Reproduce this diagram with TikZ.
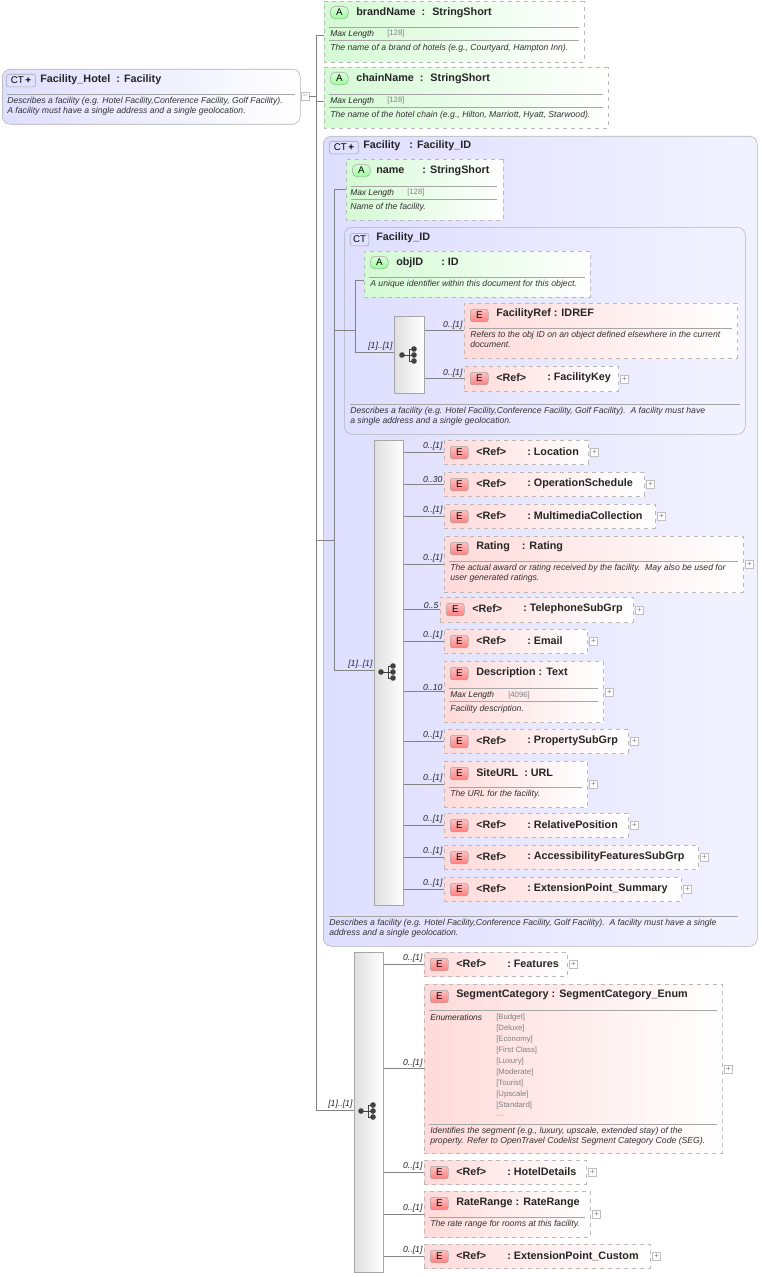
\documentclass[tikz,border=0pt]{standalone}
\usepackage{fontspec}
\setmainfont{Liberation Sans}
\usetikzlibrary{shapes.misc}
\definecolor{elL}{RGB}{255,218,218}
\definecolor{atL}{RGB}{212,250,212}
\definecolor{grL}{RGB}{222,222,255}
\definecolor{grR}{RGB}{242,242,255}
\definecolor{ln}{RGB}{130,130,130}
\newcounter{nn}
\tikzset{x=0.75pt,y=-0.75pt,
 elem/.style={draw=gray!55,dashed,left color=elL,right color=white,rectangle,inner sep=0,anchor=north west},
 attr/.style={draw=gray!55,dashed,left color=atL,right color=white,chamfered rectangle,chamfered rectangle corners={north west,south west},chamfered rectangle sep=4pt,inner sep=0,anchor=north west},
 grp/.style={draw=gray!60,rounded corners=6pt,left color=grL,right color=grR,inner sep=0,anchor=north west},
 root/.style={draw=gray!60,rounded corners=6pt,left color=grL,right color=white,inner sep=0,anchor=north west},
 seqb/.style={draw=gray!70,left color=gray!25,right color=white,inner sep=0,anchor=north west},
 conn/.style={draw=ln,line width=0.5pt},
 sep/.style={draw=gray!70,line width=0.4pt},
 ttl/.style={font=\fontsize{8.1}{9}\selectfont\bfseries,anchor=west,inner sep=0,text=black!85},
 dsc/.style={font=\fontsize{6.5}{7.7}\selectfont\itshape,anchor=north west,inner sep=0,align=left,text=black!80},
 ml/.style={font=\fontsize{6.3}{7}\selectfont\itshape,anchor=west,inner sep=0,text=black!85},
 mv/.style={font=\fontsize{5.8}{7}\selectfont,anchor=west,inner sep=0,text=gray},
 card/.style={font=\fontsize{6.5}{7}\selectfont\itshape,anchor=south east,inner sep=1pt,text=black!85},
 badge/.style={draw=gray!70,rounded corners=2pt,inner sep=0,anchor=north west,minimum width=13.5pt,minimum height=9.5pt,font=\fontsize{7.3}{8}\selectfont},
 plusb/.style={draw=gray!50,fill=white,minimum size=6pt,inner sep=0,font=\fontsize{6}{6}\selectfont,text=gray},
}
\newcommand\bx[6]{\node[#6,minimum width={(#4-#2)*0.75pt},minimum height={(#5-#3)*0.75pt}] (#1) at (#2,#3) {};}
\newcommand\tx[4]{\stepcounter{nn}\node[#3] (t\arabic{nn}) at (#1,#2) {#4};}
\newcommand\Eb[2]{\stepcounter{nn}\node[badge,top color=red!25,bottom color=red!50] (b\arabic{nn}) at (#1+6,#2+6) {E};}
\newcommand\Ab[2]{\stepcounter{nn}\node[badge,top color=green!15,bottom color=green!40,rounded corners=4pt] (b\arabic{nn}) at (#1+6,#2+5) {A};}
\newcommand\CTb[4]{\stepcounter{nn}\node[badge,fill=blue!12,minimum width=#3] (b\arabic{nn}) at (#1,#2) {CT#4};}
\newcommand\pl[1]{\stepcounter{nn}\node[plusb] (p\arabic{nn}) at ([xshift=4.5pt]#1.east) {+};}
\newcommand\cn[3]{\draw[conn] (#1.east |- #2.west) -- (#2.west); \stepcounter{nn}\node[card] (c\arabic{nn}) at (#2.west) {#3};}
\newcommand\refel[8]{\bx{#1}{#2}{#3}{#4}{#5}{elem}\Eb{#2}{#3}\tx{#2+32}{#3+12}{ttl}{<Ref>}\tx{#2+83}{#3+12}{ttl}{:\ #6}\pl{#1}\cn{#8}{#1}{#7}}
\newcommand\seqicon[2]{\fill[black!75] (#1-8,#2) circle (2.1pt) (#1+4,#2-6) circle (2.1pt) (#1+4,#2) circle (2.1pt) (#1+4,#2+6) circle (2.1pt);
 \draw[black!75,line width=0.7pt] (#1-8,#2)--(#1-1,#2) (#1-1,#2-6)--(#1-1,#2+6) (#1-1,#2-6)--(#1+4,#2-6) (#1-1,#2+6)--(#1+4,#2+6) (#1-1,#2)--(#1+4,#2);}
\begin{document}
\begin{tikzpicture}
\useasboundingbox (0,0) rectangle (761,1277);
% root
\bx{root}{2}{69}{300}{124}{root}
\CTb{6}{74}{22pt}{\,\textbf{+}}\tx{40}{80}{ttl}{Facility\_Hotel\ \ : Facility}
\draw[sep] (7,94)--(295,94);
\tx{7}{97}{dsc}{Describes a facility (e.g. Hotel Facility,Conference Facility, Golf Facility).\\A facility must have a single address and a single geolocation.}
\node[plusb] (rm) at (305,96) {--};
\coordinate (trT) at (316,35); \coordinate (trB) at (316,1110);
\draw[conn] (rm.east) -- (rm.east -| trT);
\draw[conn] (trT) -- (trB);
% brandName
\bx{brand}{324}{1}{584}{62}{attr}\Ab{324}{1}\tx{356}{13}{ttl}{brandName\ \ : \ StringShort}
\draw[sep] (329,27)--(579,27) (329,40)--(579,40);
\tx{330}{34}{ml}{Max Length}\tx{387}{34}{mv}{[128]}
\tx{330}{44}{dsc}{The name of a brand of hotels (e.g., Courtyard, Hampton Inn).}
\draw[conn] (trT) -- (brand.west |- trT);
% chainName
\bx{chain}{324}{67}{608}{128}{attr}\Ab{324}{67}\tx{356}{79}{ttl}{chainName\ \ : \ StringShort}
\draw[sep] (329,94)--(603,94) (329,107)--(603,107);
\tx{330}{101}{ml}{Max Length}\tx{387}{101}{mv}{[128]}
\tx{330}{111}{dsc}{The name of the hotel chain (e.g., Hilton, Marriott, Hyatt, Starwood).}
\coordinate (chc) at (316,101); \draw[conn] (chc) -- (chain.west |- chc);
% Facility group
\bx{fac}{323}{136}{757}{946}{grp}
\CTb{329}{141}{22pt}{\,\textbf{+}}\tx{363}{146}{ttl}{Facility\ \ \ : Facility\_ID}
\coordinate (fj) at (316,540); \coordinate (fv1) at (334,189); \coordinate (fv2) at (334,670);
\draw[conn] (fj) -- (fj -| fv1); \draw[conn] (fv1) -- (fv2);
\bx{nm}{346}{159}{503}{220}{attr}\Ab{346}{159}\tx{376}{171}{ttl}{name\ \ \ \ \ \ : StringShort}
\draw[sep] (351,186)--(497,186) (351,199)--(497,199);
\tx{350}{193}{ml}{Max Length}\tx{407}{193}{mv}{[128]}
\tx{350}{203}{dsc}{Name of the facility.}
\draw[conn] (fv1) -- (nm.west |- fv1);
% Facility_ID
\bx{fid}{344}{227}{745}{434}{grp}
\CTb{350}{233}{14pt}{}\tx{376}{238}{ttl}{Facility\_ID}
\coordinate (iv1) at (355,280); \coordinate (iv2) at (355,352); \coordinate (ij) at (334,330);
\draw[conn] (ij) -- (ij -| iv1); \draw[conn] (iv1) -- (iv2);
\bx{obj}{364}{251}{590}{297}{attr}\Ab{364}{251}\tx{396}{263}{ttl}{objID\ \ \ \ \ \ : ID}
\draw[sep] (369,277)--(585,277);
\tx{370}{280}{dsc}{A unique identifier within this document for this object.}
\draw[conn] (iv1) -- (obj.west |- iv1);
\bx{s1}{394}{316}{424}{393}{seqb}\seqicon{410}{355}
\draw[conn] (iv2) -- (s1.west |- iv2); \node[card] (c1a) at (s1.west |- iv2) {[1]..[1]};
\bx{fref}{464}{303}{737}{358}{elem}\Eb{464}{303}\tx{496}{314}{ttl}{FacilityRef\ : IDREF}
\draw[sep] (469,328)--(732,328);
\tx{470}{331}{dsc}{Refers to the obj ID on an object defined elsewhere in the current\\document.}
\cn{s1}{fref}{0..[1]}
\refel{fkey}{464}{366}{618}{391}{FacilityKey}{0..[1]}{s1}
\draw[sep] (350,404)--(740,404);
\tx{350}{407}{dsc}{Describes a facility (e.g. Hotel Facility,Conference Facility, Golf Facility).\ \ A facility must have\\a single address and a single geolocation.}
% big sequence
\bx{s2}{374}{440}{403}{905}{seqb}\seqicon{389}{672}
\draw[conn] (fv2) -- (s2.west |- fv2); \node[card] (c2a) at (s2.west |- fv2) {[1]..[1]};
\refel{loc}{444}{440}{588}{464}{Location}{0..[1]}{s2}
\refel{ops}{444}{472}{644}{496}{OperationSchedule}{0..30}{s2}
\refel{mmc}{444}{504}{655}{528}{MultimediaCollection}{0..[1]}{s2}
\bx{rat}{444}{536}{743}{592}{elem}\Eb{444}{536}\tx{476}{547}{ttl}{Rating\ \ \ \ : Rating}
\draw[sep] (449,561)--(738,561);
\tx{450}{564}{dsc}{The actual award or rating received by the facility.\ \ May also be used for\\user generated ratings.}
\pl{rat}\cn{s2}{rat}{0..[1]}
\bx{tel}{440}{597}{633}{622}{elem}\Eb{440}{597}\tx{472}{609}{ttl}{<Ref>}\tx{523}{609}{ttl}{:\ TelephoneSubGrp}\pl{tel}\cn{s2}{tel}{0..5}
\refel{eml}{444}{629}{587}{653}{Email}{0..[1]}{s2}
\bx{des}{444}{661}{603}{722}{elem}\Eb{444}{661}\tx{476}{673}{ttl}{Description\ : Text}
\draw[sep] (449,688)--(598,688) (449,701)--(598,701);
\tx{450}{695}{ml}{Max Length}\tx{508}{695}{mv}{[4096]}
\tx{450}{705}{dsc}{Facility description.}
\pl{des}\cn{s2}{des}{0..10}
\refel{pro}{444}{729}{628}{753}{PropertySubGrp}{0..[1]}{s2}
\bx{url}{444}{761}{587}{807}{elem}\Eb{444}{761}\tx{476}{773}{ttl}{SiteURL\ \ : URL}
\draw[sep] (449,787)--(582,787);
\tx{450}{790}{dsc}{The URL for the facility.}
\pl{url}\cn{s2}{url}{0..[1]}
\refel{rel}{444}{813}{628}{837}{RelativePosition}{0..[1]}{s2}
\refel{acc}{444}{845}{698}{869}{AccessibilityFeaturesSubGrp}{0..[1]}{s2}
\refel{eps}{444}{877}{681}{901}{ExtensionPoint\_Summary}{0..[1]}{s2}
\draw[sep] (329,916)--(738,916);
\tx{329}{919}{dsc}{Describes a facility (e.g. Hotel Facility,Conference Facility, Golf Facility).\ \ A facility must have a single\\address and a single geolocation.}
% bottom sequence
\bx{s3}{354}{952}{383}{1272}{seqb}\seqicon{369}{1111}
\draw[conn] (trB) -- (s3.west |- trB); \node[card] (c3a) at (s3.west |- trB) {[1]..[1]};
\refel{fea}{424}{952}{567}{976}{Features}{0..[1]}{s3}
\bx{seg}{424}{984}{722}{1153}{elem}\Eb{424}{984}\tx{456}{995}{ttl}{SegmentCategory\ : SegmentCategory\_Enum}
\draw[sep] (429,1010)--(717,1010) (429,1124)--(717,1124);
\tx{430}{1017}{ml}{Enumerations}
\foreach \v [count=\i] in {{[Budget]},{[Deluxe]},{[Economy]},{[First Class]},{[Luxury]},{[Moderate]},{[Tourist]},{[Upscale]},{[Standard]},{\ldots}}{\node[mv] (ev\i) at (496,1006+\i*11) {\v};}
\tx{430}{1127}{dsc}{Identifies the segment (e.g., luxury, upscale, extended stay) of the\\property. Refer to OpenTravel Codelist Segment Category Code (SEG).}
\pl{seg}\cn{s3}{seg}{0..[1]}
\refel{hot}{424}{1160}{586}{1184}{HotelDetails}{0..[1]}{s3}
\bx{rr}{424}{1191}{590}{1237}{elem}\Eb{424}{1191}\tx{456}{1203}{ttl}{RateRange\ : RateRange}
\draw[sep] (429,1217)--(585,1217);
\tx{430}{1220}{dsc}{The rate range for rooms at this facility.}
\pl{rr}\cn{s3}{rr}{0..[1]}
\refel{epc}{424}{1244}{650}{1268}{ExtensionPoint\_Custom}{0..[1]}{s3}
\end{tikzpicture}
\end{document}
